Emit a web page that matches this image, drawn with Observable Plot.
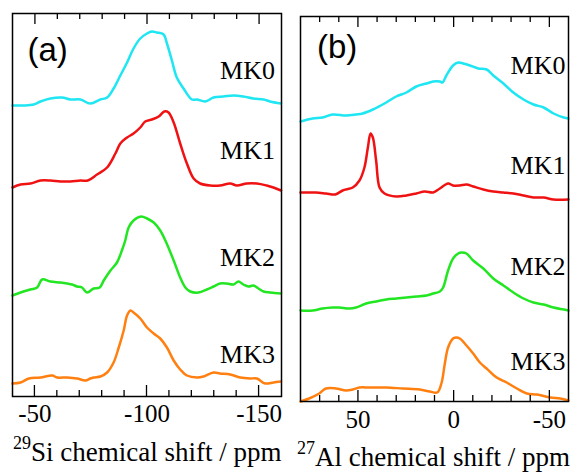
<!DOCTYPE html>
<html><head><meta charset="utf-8">
<script src="https://cdn.jsdelivr.net/npm/d3@7"></script>
<script src="https://cdn.jsdelivr.net/npm/@observablehq/plot@0.6"></script>
<style>
body{margin:0;background:#fff;}
#chart{position:relative;width:570px;height:472px;overflow:hidden;background:#fff;}
#chart svg{position:absolute;top:0;overflow:visible;}
</style></head><body><div id="chart"></div>
<script>
const samples = ["MK0", "MK1", "MK2", "MK3"];
const sampleColors = ["#1ee6f2", "#f01212", "#22e622", "#ff8010"];
const siMK0 = [[-40,291],[-45,291],[-49.5,292],[-52.5,295],[-56.9,298],[-62.1,299],[-65.8,297],[-70.3,297],[-74.7,293],[-79.2,297],[-82.2,299],[-85.1,308],[-88.1,321],[-91.1,334],[-94,348],[-97,358],[-100,363],[-102.2,365],[-104.4,364],[-107.4,362],[-108.9,353],[-111.1,336],[-113.3,319],[-116.3,308],[-120,297],[-122.3,297],[-126,295],[-129.7,299],[-134.1,300],[-138.6,301],[-143,300],[-147.5,298],[-152,297],[-154.9,295],[-159.8,293]];
const siMK1 = [[-40,209],[-43.6,212],[-48,213],[-52.5,216],[-56.9,216],[-61.4,215],[-65.8,215],[-70.3,216],[-73.6,216],[-77.7,222],[-82.2,229],[-85.9,243],[-88.1,253],[-91.1,259],[-94,263],[-97,269],[-99.2,275],[-102.2,277],[-105.2,280],[-107.7,285],[-109.6,284],[-111.9,274],[-114.8,253],[-117.8,233],[-120.8,218],[-123.7,213],[-128.2,211],[-132.6,211],[-137.1,213],[-140.1,211],[-144.5,213],[-149,213],[-153.4,211],[-156.4,209],[-159.8,206]];
const siMK2 = [[-40,101],[-43.6,104],[-48,107],[-51,109],[-53.2,117],[-56.9,115],[-61.4,114],[-64.4,113],[-66.6,112],[-68.8,110],[-71,109],[-73.3,104],[-76.2,108],[-78.9,109],[-80.7,116],[-83.7,126],[-86.6,134],[-88.8,146],[-90.3,156],[-91.8,169],[-94,176],[-97.3,180],[-100,178],[-103,174],[-105.9,166],[-108.2,156],[-111.9,136],[-114.8,119],[-117.1,109],[-119.3,105],[-123,104],[-126.7,107],[-129.7,110],[-132.6,113],[-135.6,113],[-138.6,112],[-140.8,115],[-143,112],[-145.3,110],[-147.5,111],[-149.7,108],[-152,105],[-154.9,104],[-159.8,103]];
const siMK3 = [[-40,13],[-43.6,14],[-47.3,18],[-52.5,19],[-57.7,21],[-59.9,19],[-64.4,19],[-68.8,18],[-72.5,16],[-74.7,18],[-76.2,19],[-79.2,20],[-82.2,24],[-85.1,34],[-87.4,49],[-89.6,66],[-91.1,81],[-92.6,86],[-94,84],[-97,78],[-100,69],[-103,63],[-105.9,58],[-108.9,49],[-111.9,36],[-114.8,27],[-117.8,21],[-122.3,19],[-125.2,20],[-129.7,24],[-132.6,23],[-137.1,22],[-141.6,19],[-146,18],[-149,18],[-152.7,13],[-156.4,14],[-159.8,15]];
const alMK0 = [[80,280],[73.7,283],[68.5,284],[63.2,287],[56.2,286],[51,287],[47.5,288],[42.2,292],[35.2,299],[30,305],[24.7,309],[19.5,315],[14.2,318],[10.7,320],[7.2,320],[5.8,319],[3.8,326],[0.3,336],[-2.4,339],[-5,338],[-8.5,336],[-12.9,333],[-17.2,332],[-20.7,326],[-26,318],[-31.2,309],[-36.5,302],[-41.7,297],[-47,294],[-52.2,288],[-57.5,284],[-60,283]];
const alMK1 = [[80,209],[72,209],[66.7,208],[61.8,207],[58,211],[52.7,214],[49.2,221],[46.6,234],[44.8,254],[43.4,268],[42.2,264],[40.5,241],[38.7,214],[36.1,208],[30,205],[24.7,206],[19.5,208],[15.1,210],[10.7,209],[7.2,213],[2.9,218],[0.3,216],[-3.2,216],[-6.7,217],[-10.2,215],[-15.5,212],[-20.7,210],[-26,209],[-31.2,208],[-36.5,206],[-41.7,204],[-47,204],[-52.2,202],[-60,202]];
const alMK2 = [[80,91],[73.7,91],[68.5,93],[63.2,94],[59.7,94],[54.5,93],[51,94],[45.7,98],[40.5,100],[35.2,102],[30,103],[24.7,104],[19.5,105],[14.2,106],[10.7,108],[7.2,110],[5.5,114],[2.9,131],[0.3,143],[-2.4,148],[-4.1,149],[-6.7,148],[-10.2,141],[-15.5,133],[-20.7,123],[-26,116],[-31.2,109],[-36.5,103],[-41.7,99],[-47,97],[-52.2,94],[-57.5,92],[-60,91]];
const alMK3 = [[80,0],[75.5,3],[70.2,8],[66.7,13],[61.5,13],[56.2,11],[52.7,12],[49.2,14],[44,14],[35.2,14],[26.5,13],[17.7,12],[12.5,10],[8.6,9],[6.4,18],[4.6,38],[2.9,54],[0.3,63],[-1.5,64],[-3.2,63],[-6.7,56],[-10.2,48],[-13.7,39],[-17.2,33],[-22.5,24],[-27.7,19],[-33,13],[-38.2,8],[-43.5,7],[-50.5,4],[-55.7,3],[-60,1]];
const siTicks = [-50,-60,-70,-80,-90,-100,-110,-120,-130,-140,-150];
const siTickLabels = [-50,-100,-150];
const alTicks = [70,60,50,40,30,20,10,0,-10,-20,-30,-40,-50];
const alTickLabels = [50,0,-50];

const toRows = (series) => series.flatMap((arr, i) => arr.map(([ppm, v]) => ({sample: samples[i], ppm, v})));
const siRows = toRows([siMK0, siMK1, siMK2, siMK3]);
const alRows = toRows([alMK0, alMK1, alMK2, alMK3]);

// Panel A: Plot.text labels; top ticks = ruleX placed LAST; bottom ticks drawn with d3 via Plot's x scale
const frameHA = 383;
const minorA = siTicks.filter(t => !siTickLabels.includes(t));
const svgA = Plot.plot({
  width: 290, height: 472, marginLeft: 12, marginRight: 9, marginTop: 13, marginBottom: 76,
  style: {fontFamily: "Liberation Serif", background: "transparent", overflow: "visible"},
  x: {domain: [-40, -160], axis: null}, y: {domain: [0, 383], axis: null},
  color: {domain: samples, range: sampleColors},
  marks: [
    Plot.line(siRows, {x: "ppm", y: "v", z: "sample", stroke: "sample", strokeWidth: 2.5, curve: "catmull-rom"}),
    Plot.frame({stroke: "black", strokeWidth: 1.5}),
    Plot.axisX(siTickLabels, {anchor: "bottom", tickSize: 0, tickPadding: 8, fontSize: 25, fontFamily: "Liberation Serif", tickFormat: d => String(d), label: null}),
    Plot.text(samples, {x: () => -132.6, y: (d, i) => [318, 238, 131, 34][i], text: d => d, textAnchor: "start", lineAnchor: "bottom", fontSize: 26, fontFamily: "Liberation Serif", fill: "black"}),
    Plot.text(["(a)"], {frameAnchor: "top-left", dx: 15, dy: 47, textAnchor: "start", lineAnchor: "bottom", fontSize: 33, fontFamily: "Liberation Sans", fill: "black"}),
    Plot.ruleX(minorA, {x: d => d, y1: () => 383, y2: () => 377, stroke: "black", strokeWidth: 1.3}),
    Plot.ruleX(siTickLabels, {x: d => d, y1: () => 383, y2: () => 372, stroke: "black", strokeWidth: 1.3})
  ]
});
{
  const xs = svgA.scale("x");
  const g = d3.select(svgA).append("g").attr("stroke", "black").attr("stroke-width", 1.3);
  siTicks.forEach(t => {
    const px = xs.apply(t), len = siTickLabels.includes(t) ? 11 : 6;
    g.append("line").attr("x1", px).attr("x2", px).attr("y1", 396).attr("y2", 396 - len);
  });
}

// Panel B: labels via d3 (no Plot.text); ticks via ruleX before frame (top) and tickX (bottom)
const minorB = alTicks.filter(t => !alTickLabels.includes(t));
const svgB = Plot.plot({
  width: 285, height: 472, marginLeft: 15, marginRight: 2, marginTop: 16, marginBottom: 71,
  style: {fontFamily: "Liberation Serif", background: "transparent", overflow: "visible"},
  x: {domain: [80, -60], axis: null}, y: {domain: [0, 385], axis: null},
  color: {domain: samples, range: sampleColors},
  marks: [
    Plot.line(alRows, {x: "ppm", y: "v", z: "sample", stroke: "sample", strokeWidth: 2.5, curve: "catmull-rom"}),
    Plot.ruleX(minorB, {x: d => d, y1: () => 385, y2: () => 379, stroke: "black", strokeWidth: 1.3}),
    Plot.ruleX(alTickLabels, {x: d => d, y1: () => 385, y2: () => 374, stroke: "black", strokeWidth: 1.3}),
    Plot.tickX(minorB, {x: d => d, insetTop: 379, stroke: "black", strokeWidth: 1.3}),
    Plot.tickX(alTickLabels, {x: d => d, insetTop: 374, stroke: "black", strokeWidth: 1.3}),
    Plot.frame({stroke: "black", strokeWidth: 1.5}),
    Plot.axisX(alTickLabels, {anchor: "bottom", tickSize: 0, tickPadding: 9, fontSize: 25, fontFamily: "Liberation Serif", tickFormat: d => String(d), label: null})
  ]
});
{
  const xs = svgB.scale("x"), ys = svgB.scale("y");
  const lab = d3.select(svgB).append("g").attr("font-family", "Liberation Serif").attr("font-size", 26).attr("text-anchor", "start").attr("fill", "black");
  samples.forEach((s, i) => lab.append("text").attr("x", xs.apply(-30)).attr("y", ys.apply([327, 227, 126, 31][i])).text(s));
  d3.select(svgB).append("text").attr("x", 32).attr("y", 58).attr("text-anchor", "start")
    .attr("font-family", "Liberation Sans").attr("font-size", 33).attr("fill", "black").text("(b)");
}

function addTitle(svg, x, y, sup, main, size) {
  const t = d3.select(svg).append("text").attr("x", x).attr("y", y)
    .attr("text-anchor", "start")
    .attr("font-family", "Liberation Serif").attr("font-size", size).attr("fill", "black");
  t.append("tspan").attr("font-size", 18).attr("dy", -12).text(sup);
  t.append("tspan").attr("dy", 12).text(main);
}
addTitle(svgA, 13, 461, "29", "Si chemical shift / ppm", 27);
addTitle(svgB, 12, 466, "27", "Al chemical shift / ppm", 27);
svgA.style.left = "0px";
svgB.style.left = "285px";
const root = document.getElementById("chart");
root.appendChild(svgA);
root.appendChild(svgB);
</script>
</body></html>
